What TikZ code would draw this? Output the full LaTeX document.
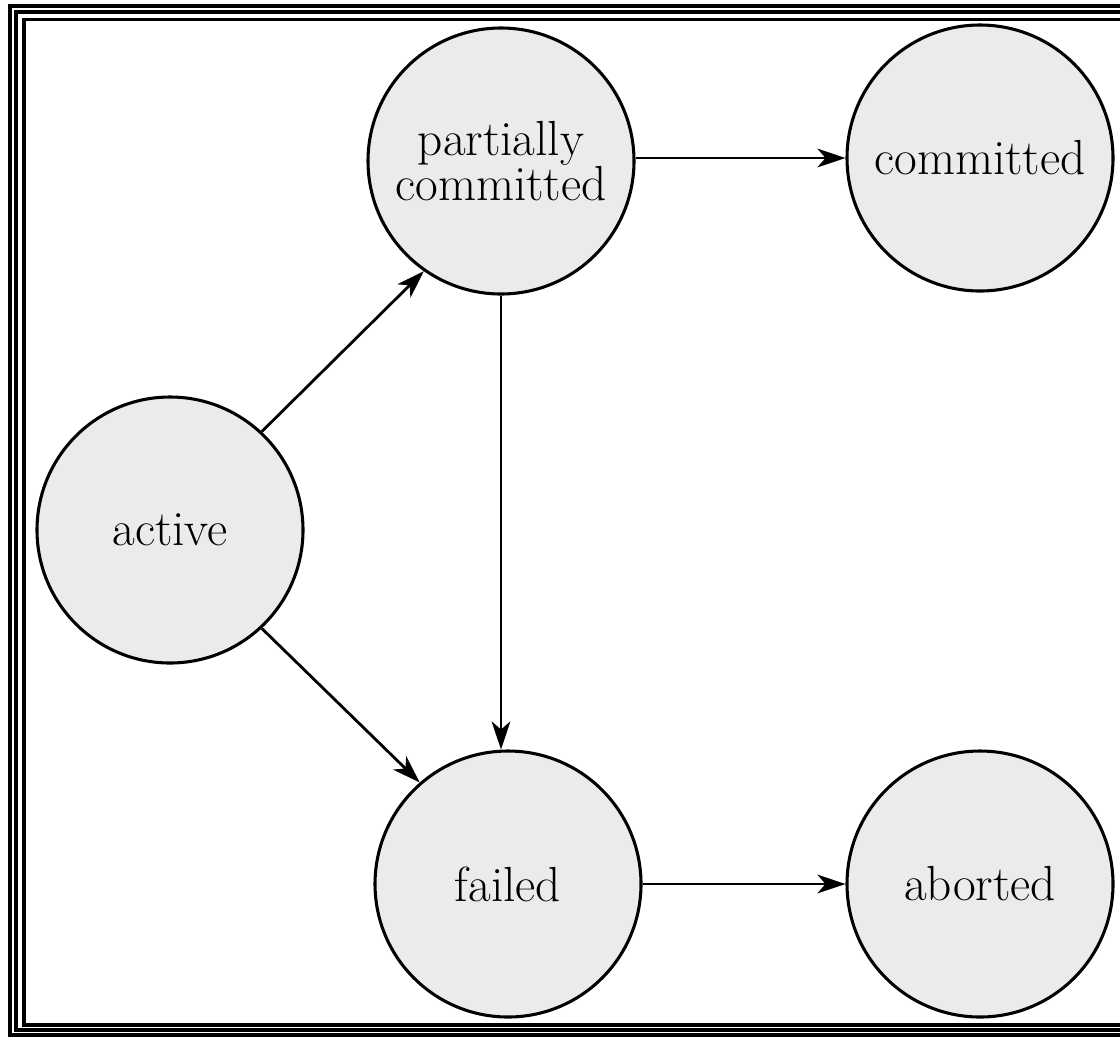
\documentclass[tikz,border=0pt]{standalone}
\usetikzlibrary{arrows.meta}
\definecolor{statefill}{RGB}{235,235,235}
\begin{document}
\begin{tikzpicture}[x=0.75pt,y=-0.75pt,
  state/.style={circle,draw=black,line width=2.3pt,fill=statefill,minimum size=199.5pt,inner sep=0pt,align=center,font=\fontsize{37}{32}\selectfont},
  conn/.style={line width=2.1pt,-{Stealth[length=21pt,width=14pt,inset=6pt]}},
  frameline/.style={draw=black}]
\useasboundingbox (0,0) rectangle (1120,1036);
\clip (0,0) rectangle (1120,1036);
% frame
\draw[frameline,line width=2.6pt] (10,6) rectangle (1140,1035);
\draw[frameline,line width=3pt] (16,11.5) rectangle (1134,1030);
\draw[frameline,line width=2.8pt] (24,19.5) rectangle (1128,1025);
% states
\node[state] (act) at (170,530) {active};
\node[state] (pc) at (501,161) {partially\\committed};
\node[state] (cm) at (980,158) {committed};
\node[state] (fail) at (508,884) {failed};
\node[state] (ab) at (980,884) {aborted};
% transitions
\draw[conn] (act.47) -- (pc.235);
\draw[conn] (act.313) -- (fail.131);
\draw[conn] (pc.south) -- (pc.south |- fail.north);
\draw[conn] (pc.east |- cm.west) -- (cm.west);
\draw[conn] (fail.east) -- (ab.west);
\end{tikzpicture}
\end{document}
